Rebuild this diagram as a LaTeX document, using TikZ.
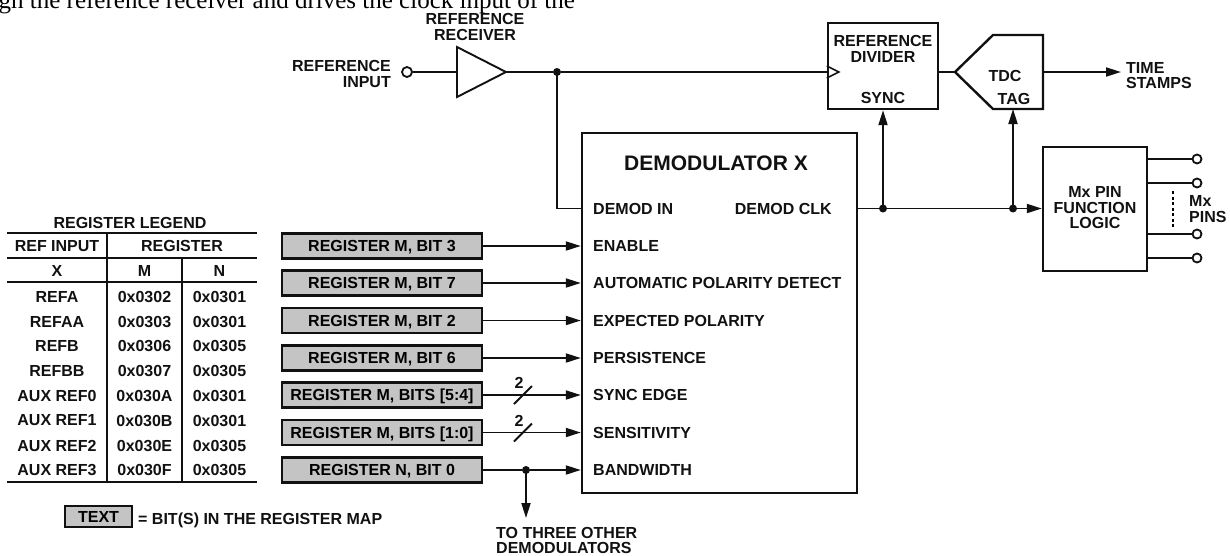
\documentclass[tikz,border=0pt]{standalone}
\usepackage{fontspec}
\setmainfont{Liberation Sans}
\newfontfamily\bodyserif{Liberation Serif}
\usepackage{tikz}
\usetikzlibrary{arrows.meta,positioning,calc}
\definecolor{InkBlack}{HTML}{111111}
\definecolor{RegGray}{HTML}{C4C4C4}
\newcommand{\lblfont}{\fontsize{16}{15.5}\selectfont\bfseries}
\tikzset{
  blockbox/.style={draw=InkBlack,line width=2.4pt,inner sep=0pt},
  regbox/.style={draw=InkBlack,fill=RegGray,line width=2.2pt,minimum width=200pt,
    minimum height=25pt,inner sep=0pt,font=\lblfont,text depth=0pt},
  lbl/.style={font=\lblfont,inner sep=0pt,text=InkBlack},
  sigline/.style={line width=1.9pt,draw=InkBlack},
  sigarrow/.style={sigline,-{Triangle[length=15pt,width=9pt]}},
  jdot/.style={circle,fill=InkBlack,inner sep=0pt,minimum size=8pt},
  pinring/.style={circle,draw=InkBlack,fill=white,line width=1.8pt,inner sep=0pt,minimum size=9pt},
  tabrule/.style={line width=2.4pt,draw=InkBlack},
  tabsep/.style={line width=1.8pt,draw=InkBlack}
}

\begin{document}
\begin{tikzpicture}[x=1pt,y=-1pt]
  \useasboundingbox (0,0) rectangle (1230,555);

  % cut-off text line at the top edge
  \node[font=\bodyserif\fontsize{25}{25}\selectfont,anchor=base east,inner sep=0pt] (CAP) at (575,8)
    {gh the reference receiver and drives the clock input of the};

  % reference input and receiver
  \node[pinring,minimum size=10pt] (IN) at (407,72) {};
  \node[lbl,align=right,anchor=east] (INl) at (391,74) {REFERENCE\\INPUT};
  \coordinate (BUFin) at (457,72);
  \coordinate (BUFout) at (506,72);
  \draw[sigline,line join=miter] (457,47) -- (BUFout) -- (457,97) -- cycle;
  \node[lbl,align=center] (RXl) at (475,27) {REFERENCE\\RECEIVER};
  \node[jdot] (J1) at (557,72) {};

  % divider and tdc
  \node[blockbox,minimum width=110pt,minimum height=86pt] (DIV) at (883,66) {};
  \node[lbl,align=center] (DIVt) at (883,49) {REFERENCE\\DIVIDER};
  \node[lbl] (SYNC) at (883,98) {SYNC};
  \coordinate (CLK) at (J1 -| DIV.west);
  \coordinate (TDCw) at (955,72);
  \coordinate (TDCnw) at (993,35);
  \coordinate (TDCne) at (1043,35);
  \coordinate (TDCse) at (1043,109);
  \coordinate (TDCsw) at (993,109);
  \coordinate (TDCe) at (1043,72);
  \draw[blockbox] (TDCw) -- (TDCnw) -- (TDCne) -- (TDCse) -- (TDCsw) -- cycle;
  \node[lbl] (TDC) at (1005,76) {TDC};
  \node[lbl] (TAG) at (1014,99) {TAG};
  \node[lbl,align=left,anchor=west] (TS) at (1126,75.5) {TIME\\STAMPS};

  % demodulator
  \node[blockbox,minimum width=275pt,minimum height=360pt] (DEM) at (719.5,313) {};
  \node[lbl,font=\fontsize{21}{24}\selectfont\bfseries] (DEMt) at (716,163) {DEMODULATOR X};
  \node[lbl,anchor=west] (DIN) at (593,208.5) {DEMOD IN};
  \node[lbl,anchor=east] (DCLK) at (832,208.5) {DEMOD CLK};
  \node[lbl,anchor=west] (ENA) at (593,246) {ENABLE};
  \node[lbl,anchor=west] (APD) at (593,283) {AUTOMATIC POLARITY DETECT};
  \node[lbl,anchor=west] (EXP) at (593,320.5) {EXPECTED POLARITY};
  \node[lbl,anchor=west] (PER) at (593,358) {PERSISTENCE};
  \node[lbl,anchor=west] (SEDG) at (593,395) {SYNC EDGE};
  \node[lbl,anchor=west] (SENS) at (593,432.5) {SENSITIVITY};
  \node[lbl,anchor=west] (BW) at (593,470) {BANDWIDTH};

  % register bits
  \node[regbox] (RA) at (382,246) {REGISTER M, BIT 3};
  \node[regbox] (RB) at (382,283) {REGISTER M, BIT 7};
  \node[regbox] (RC) at (382,320.5) {REGISTER M, BIT 2};
  \node[regbox] (RD) at (382,358) {REGISTER M, BIT 6};
  \node[regbox] (RE) at (382,395) {REGISTER M, BITS [5:4]};
  \node[regbox] (RF) at (382,432.5) {REGISTER M, BITS [1:0]};
  \node[regbox] (RG) at (382,470) {REGISTER N, BIT 0};

  % pin logic
  \node[blockbox,minimum width=104pt,minimum height=124pt] (PIN) at (1095,209) {};
  \node[lbl,align=center] (PINt) at (1095,208) {Mx PIN\\FUNCTION\\LOGIC};
  \node[pinring] (P1) at (1197,159) {};
  \node[pinring] (P2) at (1197,183) {};
  \node[pinring] (P3) at (1197,234) {};
  \node[pinring] (P4) at (1197,258) {};
  \node[lbl,align=left,anchor=west] (PINS) at (1189,209) {Mx\\PINS};

  % junctions
  \node[jdot] (J2) at (883,208.5) {};
  \node[jdot] (J3) at (1013,208.5) {};
  \node[jdot] (J4) at (526,470) {};
  \coordinate (OTtip) at (526,518);
  \node[lbl,align=left,anchor=north west] (OT) at (496,527) {TO THREE OTHER\\DEMODULATORS};

  % register legend
  \node[lbl] (LEG) at (130,223) {REGISTER LEGEND};
  \node[lbl] (H1) at (57,246) {REF INPUT};
  \node[lbl] (H2) at (182,246) {REGISTER};
  \node[lbl] (HX) at (57,270.5) {X};
  \node[lbl] (HM) at (144.5,270.5) {M};
  \node[lbl] (HN) at (219.5,270.5) {N};
  \node[lbl] (X1) at (57,297) {REFA};
  \node[lbl] (M1) at (144.5,297) {0x0302};
  \node[lbl] (N1) at (219.5,297) {0x0301};
  \node[lbl] (X2) at (57,321.5) {REFAA};
  \node[lbl] (M2) at (144.5,321.5) {0x0303};
  \node[lbl] (N2) at (219.5,321.5) {0x0301};
  \node[lbl] (X3) at (57,346) {REFB};
  \node[lbl] (M3) at (144.5,346) {0x0306};
  \node[lbl] (N3) at (219.5,346) {0x0305};
  \node[lbl] (X4) at (57,371) {REFBB};
  \node[lbl] (M4) at (144.5,371) {0x0307};
  \node[lbl] (N4) at (219.5,371) {0x0305};
  \node[lbl] (X5) at (57,396) {AUX REF0};
  \node[lbl] (M5) at (144.5,396) {0x030A};
  \node[lbl] (N5) at (219.5,396) {0x0301};
  \node[lbl] (X6) at (57,420.5) {AUX REF1};
  \node[lbl] (M6) at (144.5,420.5) {0x030B};
  \node[lbl] (N6) at (219.5,420.5) {0x0301};
  \node[lbl] (X7) at (57,445.5) {AUX REF2};
  \node[lbl] (M7) at (144.5,445.5) {0x030E};
  \node[lbl] (N7) at (219.5,445.5) {0x0305};
  \node[lbl] (X8) at (57,470) {AUX REF3};
  \node[lbl] (M8) at (144.5,470) {0x030F};
  \node[lbl] (N8) at (219.5,470) {0x0305};
  \draw[tabrule] (7,233) -- (257,233);
  \draw[tabrule] (7,258) -- (257,258);
  \draw[tabrule] (7,282) -- (257,282);
  \draw[tabrule] (7,482) -- (257,482);
  \draw[tabsep] (107,233) -- (107,482);
  \draw[tabsep] (182,258) -- (182,482);

  \node[regbox,minimum width=67pt,minimum height=21pt] (KEY) at (98.5,516.5) {TEXT};
  \node[lbl,anchor=base west] (KEYt) at (138,524) {= BIT(S) IN THE REGISTER MAP};

  % connections
  \draw[sigline] (IN) -- (BUFin);
  \draw[sigline] (BUFout) -- (J1);
  \draw[sigline] (J1) -- (CLK);
  \draw[sigline,line width=1.6pt] (CLK) ++(0,-6) -- ++(12,6) -- ++(-12,6);
  \draw[sigline] (J1.center) |- (DIN -| DEM.west);
  \draw[sigline] (DIV.east |- TDCw) -- (TDCw);
  \draw[sigarrow,shorten >=5pt] (TDCe) -- (TDCe -| TS.west);
  \draw[sigline] (DEM.east |- DCLK) -- (J2);
  \draw[sigline] (J2) -- (J3);
  \draw[sigarrow] (J3) -- (J3 -| PIN.west);
  \draw[sigarrow] (J2.center) -- (J2 |- DIV.south);
  \draw[sigarrow] (J3.center) -- (J3 |- TDCsw);
  \draw[sigarrow] (RA) -- (RA -| DEM.west);
  \draw[sigarrow] (RB) -- (RB -| DEM.west);
  \draw[sigarrow] (RC) -- (RC -| DEM.west);
  \draw[sigarrow] (RD) -- (RD -| DEM.west);
  \draw[sigarrow] (RE) -- (RE -| DEM.west);
  \draw[sigarrow] (RF) -- (RF -| DEM.west);
  \draw[sigline] (RG) -- (J4);
  \draw[sigarrow] (J4) -- (J4 -| DEM.west);
  \draw[sigarrow] (J4.center) -- (OTtip);
  \draw[sigline] (P1 -| PIN.east) -- (P1);
  \draw[sigline] (P2 -| PIN.east) -- (P2);
  \draw[sigline] (P3 -| PIN.east) -- (P3);
  \draw[sigline] (P4 -| PIN.east) -- (P4);
  \draw[line width=1.4pt,dash pattern=on 3pt off 2.5pt] (1173,191) -- (1173,227);

  % bus width marks
  \draw[sigline] (514,404) -- (532,386);
  \node[lbl] (W1) at (519,383) {2};
  \draw[sigline] (514,441.5) -- (532,423.5);
  \node[lbl] (W2) at (519,420.5) {2};
\end{tikzpicture}
\end{document}
